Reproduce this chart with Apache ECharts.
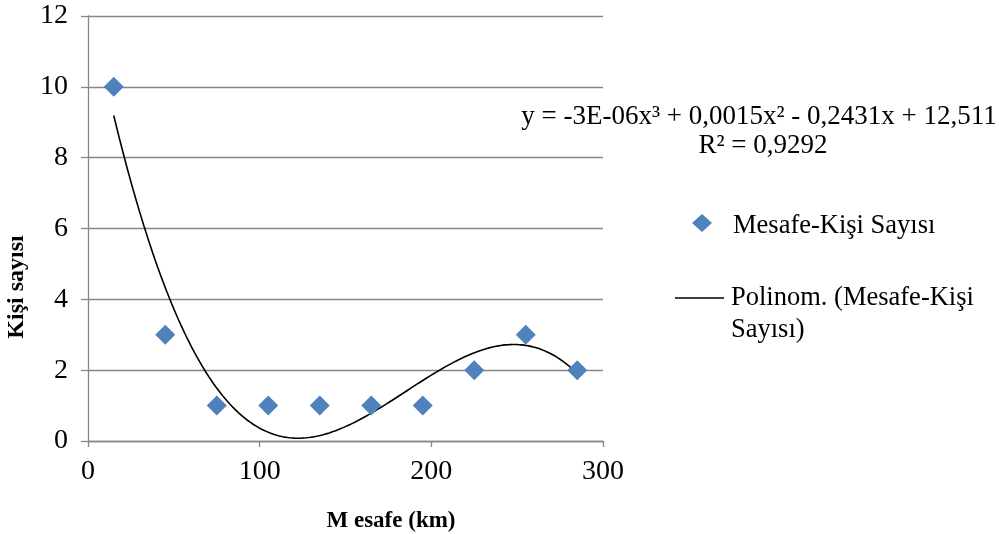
<!DOCTYPE html>
<html><head><meta charset="utf-8">
<script src="https://cdn.jsdelivr.net/npm/echarts@6/dist/echarts.min.js"></script>
<style>html,body{margin:0;padding:0;background:#fff}#c{width:999px;height:534px}</style>
</head><body><div id="c"></div>
<script>
var distances = [15, 45, 75, 105, 135, 165, 195, 225, 255, 285];
var persons = [10, 3, 1, 1, 1, 1, 1, 2, 3, 2];
var xTicks = [0, 100, 200, 300];
var yTicks = [0, 2, 4, 6, 8, 10, 12];
var seriesName = 'Mesafe-Kişi Sayısı';
var trendName = 'Polinom. (Mesafe-Kişi Sayısı)';
var equationText = 'y = -3E-06x³ + 0,0015x² - 0,2431x + 12,511';
var r2Text = 'R² = 0,9292';

// cubic least-squares trend line (as Excel's polynomial trendline) from the data
function polyfit(xs, ys, deg) {
  var n = deg + 1, A = [], i, j, k;
  for (i = 0; i < n; i++) { A.push([]); for (j = 0; j <= n; j++) A[i].push(0); }
  for (k = 0; k < xs.length; k++) {
    for (i = 0; i < n; i++) {
      for (j = 0; j < n; j++) A[i][j] += Math.pow(xs[k], i + j);
      A[i][n] += ys[k] * Math.pow(xs[k], i);
    }
  }
  for (i = 0; i < n; i++) {
    var p = i;
    for (j = i + 1; j < n; j++) if (Math.abs(A[j][i]) > Math.abs(A[p][i])) p = j;
    var t = A[i]; A[i] = A[p]; A[p] = t;
    for (j = i + 1; j < n; j++) {
      var f = A[j][i] / A[i][i];
      for (k = i; k <= n; k++) A[j][k] -= f * A[i][k];
    }
  }
  var c = new Array(n);
  for (i = n - 1; i >= 0; i--) {
    var s = A[i][n];
    for (j = i + 1; j < n; j++) s -= A[i][j] * c[j];
    c[i] = s / A[i][i];
  }
  return c;
}
var coef = polyfit(distances, persons, 3);
var trend = [];
var x0 = distances[0], x1 = distances[distances.length - 1];
for (var s = 0; s <= 200; s++) {
  var x = x0 + (x1 - x0) * s / 200;
  trend.push([x, coef[0] + coef[1] * x + coef[2] * x * x + coef[3] * x * x * x]);
}

var chart = echarts.init(document.getElementById('c'), null, {renderer: 'canvas'});
var font = '"Liberation Serif", "Times New Roman", serif';
var grey = '#868686';
chart.setOption({
  animation: false,
  backgroundColor: '#fff',
  grid: {left: 88, right: 396, top: 16, bottom: 93},
  xAxis: {
    type: 'value', min: 0, max: 300, interval: 100,
    axisLine: {lineStyle: {color: grey, width: 1.3}},
    axisTick: {show: true, length: 6, lineStyle: {color: grey, width: 1.3}},
    axisLabel: {color: '#000', fontFamily: font, fontSize: 28, margin: 17},
    splitLine: {show: false}
  },
  yAxis: {
    type: 'value', min: 0, max: 12, interval: 2,
    axisLine: {show: true, lineStyle: {color: grey, width: 1.3}},
    axisTick: {show: true, length: 7, lineStyle: {color: grey, width: 1.3}},
    axisLabel: {color: '#000', fontFamily: font, fontSize: 28, margin: 20},
    splitLine: {show: true, lineStyle: {color: grey, width: 1.3}}
  },
  series: [
    {
      name: trendName, type: 'line', data: trend, showSymbol: false, symbol: 'none',
      smooth: false, lineStyle: {color: '#000', width: 1.6}, z: 2
    },
    {
      name: seriesName, type: 'scatter', symbol: 'diamond', symbolSize: 20,
      itemStyle: {color: '#4F81BD', opacity: 1},
      data: distances.map(function (d, i) { return [d, persons[i]]; }), z: 3
    }
  ],
  graphic: [
    {type: 'text', rotation: Math.PI / 2, x: 17, y: 287,
     style: {text: 'Kişi sayısı', font: 'bold 24px ' + font, fill: '#000', align: 'center', verticalAlign: 'middle'}},
    {type: 'text', x: 391, y: 521,
     style: {text: 'M esafe (km)', font: 'bold 23px ' + font, fill: '#000', align: 'center', verticalAlign: 'middle'}},
    {type: 'text', x: 759, y: 117,
     style: {text: equationText, font: '27px ' + font, fill: '#000', align: 'center', verticalAlign: 'middle'}},
    {type: 'text', x: 763, y: 146,
     style: {text: r2Text, font: '27px ' + font, fill: '#000', align: 'center', verticalAlign: 'middle'}},
    {type: 'polygon', shape: {points: [[702, 214], [712, 223], [702, 232], [692, 223]]},
     style: {fill: '#4F81BD'}},
    {type: 'text', x: 733, y: 226,
     style: {text: 'Mesafe-Kişi Sayısı', font: '26.5px ' + font, fill: '#000', verticalAlign: 'middle'}},
    {type: 'line', shape: {x1: 675, y1: 298, x2: 724, y2: 298}, style: {stroke: '#000', lineWidth: 1.6}},
    {type: 'text', x: 731, y: 298,
     style: {text: 'Polinom. (Mesafe-Kişi', font: '26.5px ' + font, fill: '#000', verticalAlign: 'middle'}},
    {type: 'text', x: 731, y: 330,
     style: {text: 'Sayısı)', font: '26.5px ' + font, fill: '#000', verticalAlign: 'middle'}}
  ]
});
</script></body></html>
